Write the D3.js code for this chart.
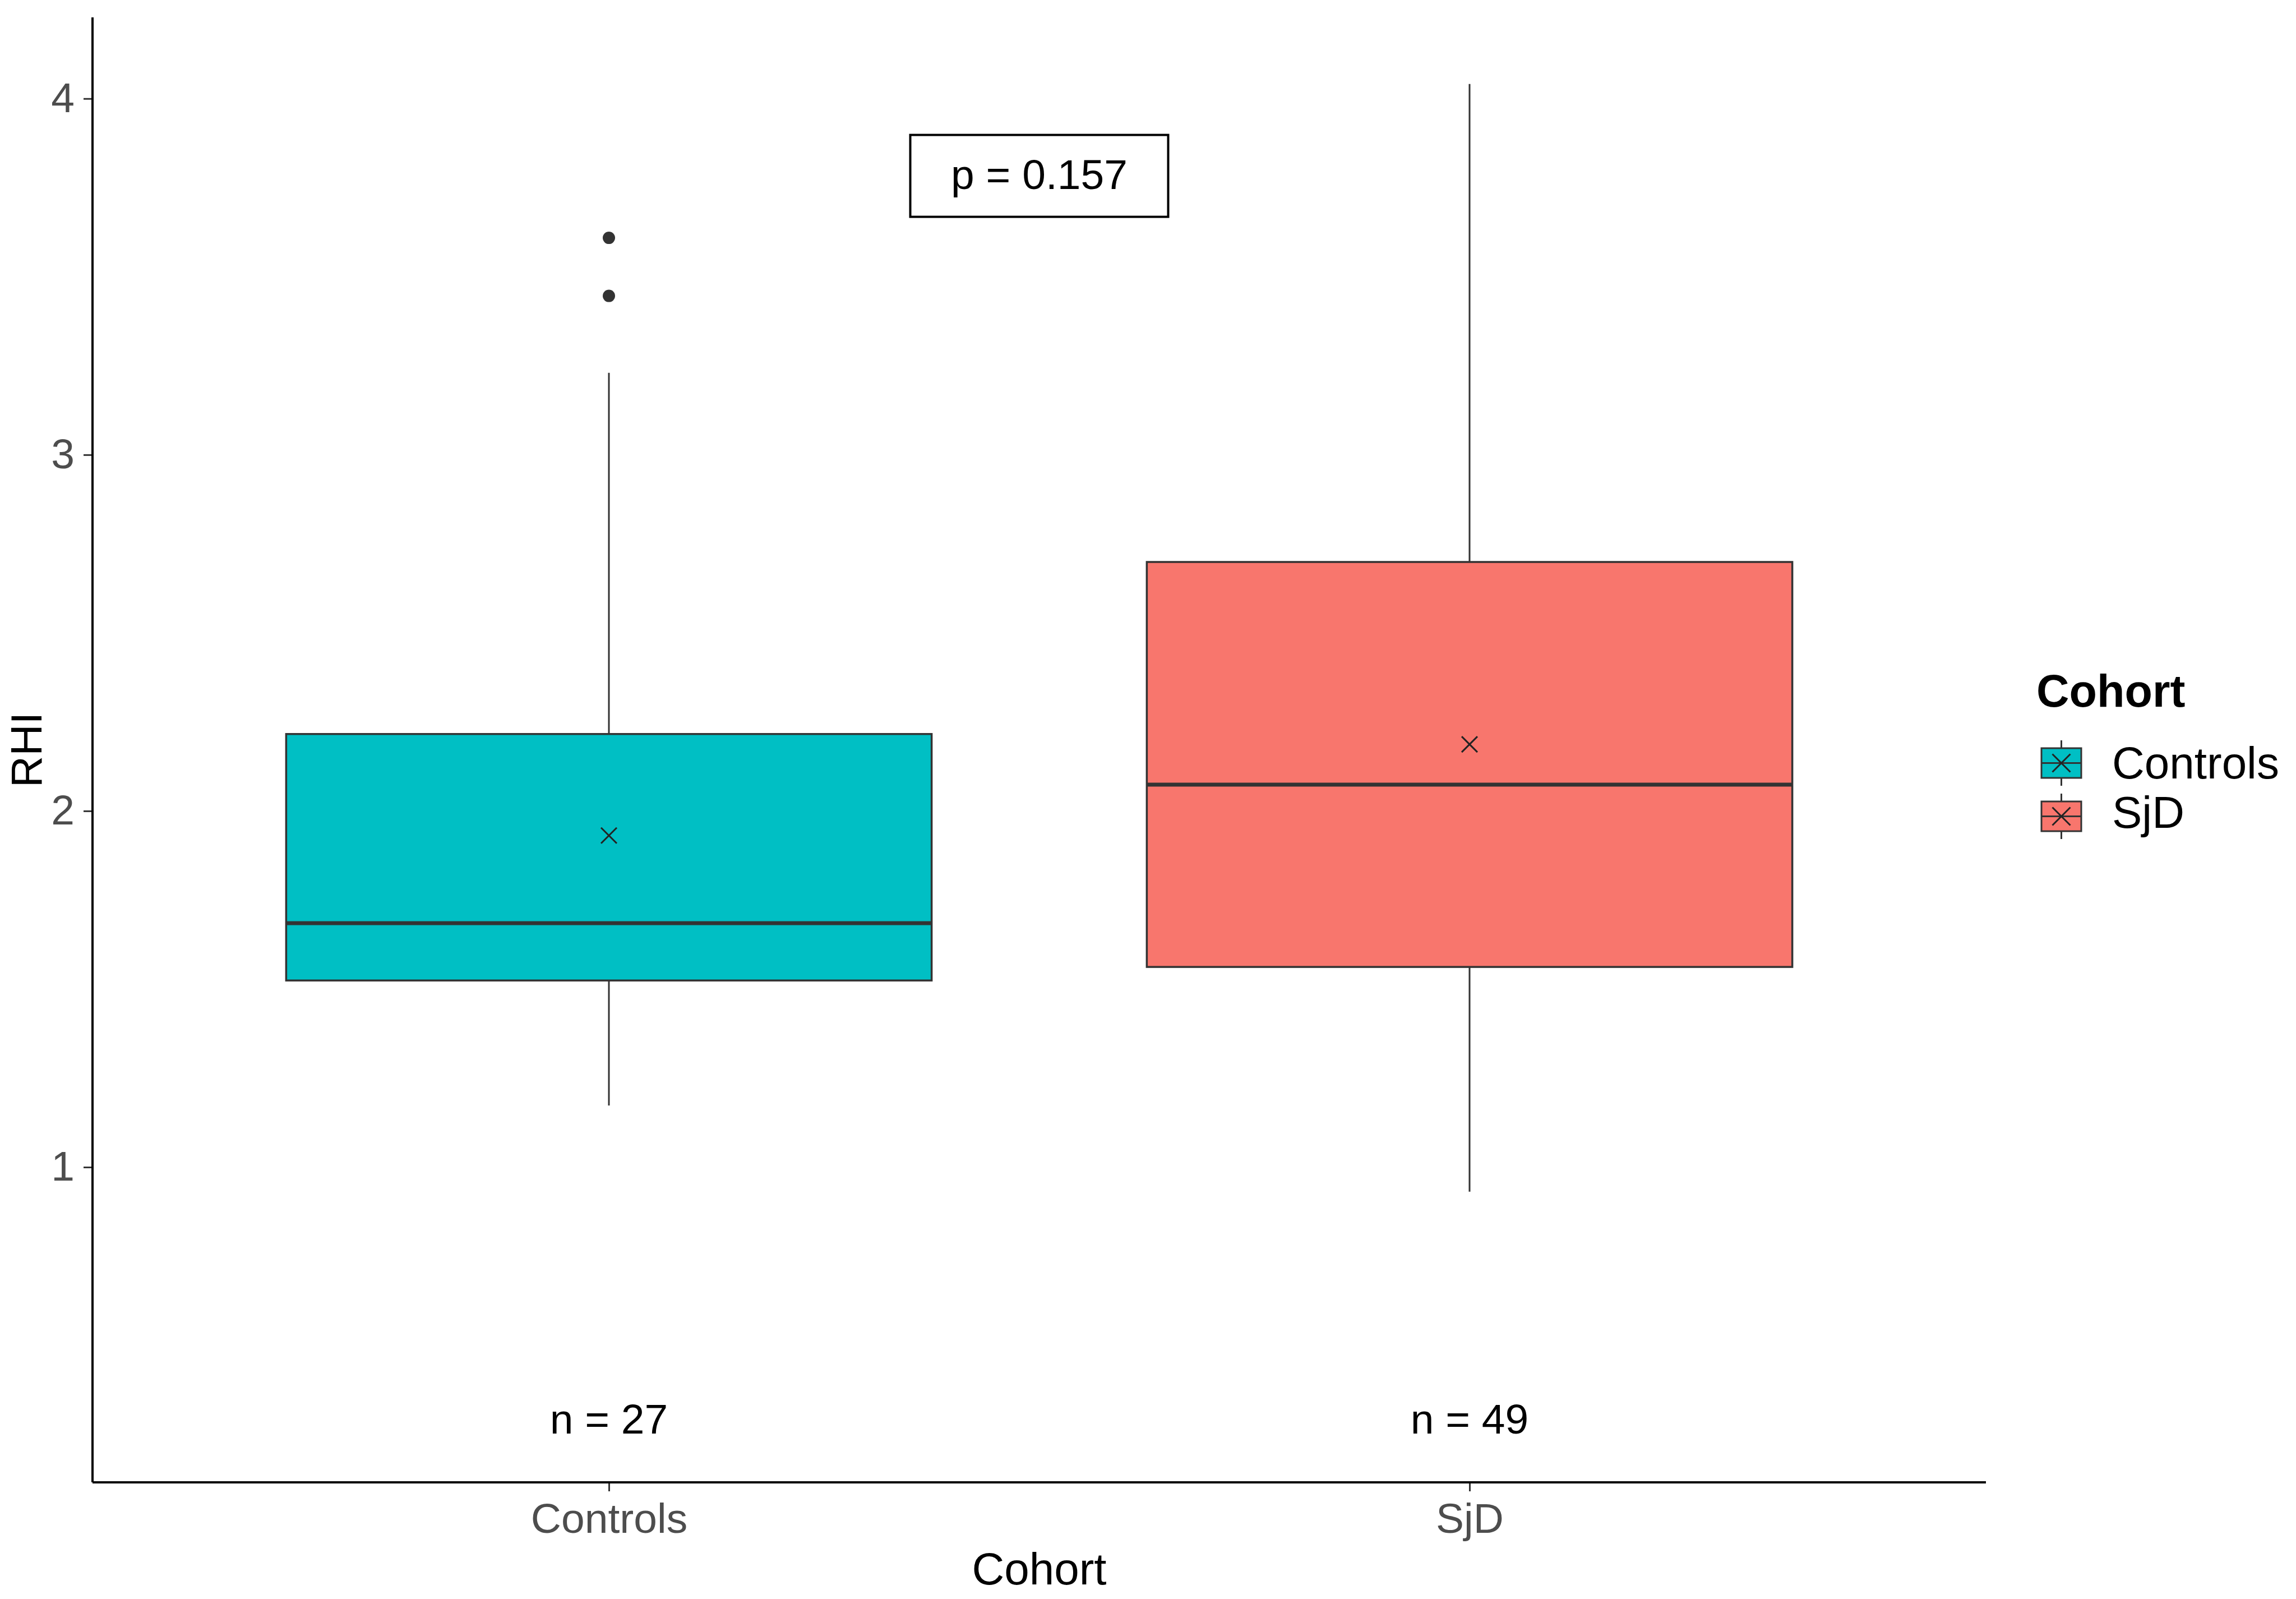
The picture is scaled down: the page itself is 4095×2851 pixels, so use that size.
<!DOCTYPE html>
<html>
<head>
<meta charset="utf-8">
<script src="https://cdn.jsdelivr.net/npm/d3@7"></script>
<style>
  html, body { margin: 0; padding: 0; background: #fff; }
  svg { display: block; }
  text { font-family: "Liberation Sans", Arial, sans-serif; }
</style>
</head>
<body>
<svg id="chart" width="4095" height="2851"></svg>
<script>
// ---- Data ----
const categories = ["Controls", "SjD"];
const fillColors = ["#00BFC4", "#F8766D"];
const whiskerLow = [1.173, 0.931];
const q1 = [1.524, 1.562];
const medians = [1.685, 2.074];
const q3 = [2.216, 2.699];
const whiskerHigh = [3.230, 4.041];
const means = [1.931, 2.187];
const outliers = [[3.609, 3.446], []];
const nLabels = ["n = 27", "n = 49"];
const nLabelY = 0.3;
const pLabel = "p = 0.157";
const pLabelX = 1.5;
const pLabelY = 3.783;
const yTicks = [1, 2, 3, 4];
const yDomain = [0.115, 4.228];

// ---- Layout ----
const W = 4095, H = 2851;
const pLeft = 165, pRight = 3542, pTop = 31, pBottom = 2643;

const svg = d3.select("#chart");
svg.append("rect").attr("width", W).attr("height", H).attr("fill", "#fff");

const x = d3.scalePoint().domain(categories).range([pLeft, pRight]).padding(0.6);
const xNum = d3.scaleLinear().domain([1, 2]).range([x(categories[0]), x(categories[1])]);
const y = d3.scaleLinear().domain(yDomain).range([pBottom, pTop]);
const boxW = x.step() * 0.75;

const data = categories.map((c, i) => ({
  cat: c, fill: fillColors[i], lo: whiskerLow[i], q1: q1[i], med: medians[i],
  q3: q3[i], hi: whiskerHigh[i], mean: means[i], out: outliers[i], n: nLabels[i]
}));

const lineCol = "#333333";
const g = svg.append("g");

// whiskers
g.selectAll(".wh-up").data(data).enter().append("line")
  .attr("x1", d => x(d.cat)).attr("x2", d => x(d.cat))
  .attr("y1", d => y(d.q3)).attr("y2", d => y(d.hi))
  .attr("stroke", lineCol).attr("stroke-width", 3);
g.selectAll(".wh-lo").data(data).enter().append("line")
  .attr("x1", d => x(d.cat)).attr("x2", d => x(d.cat))
  .attr("y1", d => y(d.q1)).attr("y2", d => y(d.lo))
  .attr("stroke", lineCol).attr("stroke-width", 3);

// boxes
g.selectAll(".box").data(data).enter().append("rect")
  .attr("x", d => x(d.cat) - boxW / 2).attr("width", boxW)
  .attr("y", d => y(d.q3)).attr("height", d => y(d.q1) - y(d.q3))
  .attr("fill", d => d.fill).attr("stroke", lineCol).attr("stroke-width", 3.5);

// medians
g.selectAll(".med").data(data).enter().append("line")
  .attr("x1", d => x(d.cat) - boxW / 2).attr("x2", d => x(d.cat) + boxW / 2)
  .attr("y1", d => y(d.med)).attr("y2", d => y(d.med))
  .attr("stroke", lineCol).attr("stroke-width", 7);

// outliers
data.forEach(d => {
  g.selectAll(null).data(d.out).enter().append("circle")
    .attr("cx", x(d.cat)).attr("cy", v => y(v)).attr("r", 11)
    .attr("fill", lineCol);
});

// mean markers (x shape)
const cross = (sel, cx, cy, s, sw) => {
  sel.append("path")
    .attr("d", `M${cx - s},${cy - s}L${cx + s},${cy + s}M${cx - s},${cy + s}L${cx + s},${cy - s}`)
    .attr("stroke", "#222").attr("stroke-width", sw).attr("fill", "none");
};
data.forEach(d => cross(g, x(d.cat), y(d.mean), 14, 3));

// n labels
g.selectAll(".nlab").data(data).enter().append("text")
  .attr("x", d => x(d.cat)).attr("y", y(nLabelY) + 4)
  .attr("text-anchor", "middle").attr("dominant-baseline", "central")
  .attr("font-size", 75).attr("fill", "#000").text(d => d.n);

// p label box
g.append("rect")
  .attr("x", xNum(pLabelX) - 230).attr("width", 460)
  .attr("y", y(pLabelY) - 73).attr("height", 146)
  .attr("fill", "#fff").attr("stroke", "#000").attr("stroke-width", 4);
g.append("text")
  .attr("x", xNum(pLabelX)).attr("y", y(pLabelY) - 3)
  .attr("text-anchor", "middle").attr("dominant-baseline", "central")
  .attr("font-size", 75).attr("fill", "#000").text(pLabel);

// axes
const xAxis = svg.append("g").attr("transform", `translate(0,${pBottom})`)
  .call(d3.axisBottom(x).tickSize(16).tickPadding(21));
const yAxis = svg.append("g").attr("transform", `translate(${pLeft},0)`)
  .call(d3.axisLeft(y).tickValues(yTicks).tickFormat(d3.format("d")).tickSize(16).tickPadding(16));
[xAxis, yAxis].forEach(a => {
  a.select(".domain").remove();
  a.selectAll(".tick line").attr("stroke", lineCol).attr("stroke-width", 3);
  a.selectAll(".tick text").attr("font-size", 75).attr("fill", "#4D4D4D")
    .attr("font-family", "'Liberation Sans', Arial, sans-serif");
});
// axis lines
svg.append("line").attr("x1", pLeft).attr("x2", pRight).attr("y1", pBottom).attr("y2", pBottom)
  .attr("stroke", "#000").attr("stroke-width", 4);
svg.append("line").attr("x1", pLeft).attr("x2", pLeft).attr("y1", pTop).attr("y2", pBottom)
  .attr("stroke", "#000").attr("stroke-width", 4);

// axis titles
svg.append("text").attr("x", (pLeft + pRight) / 2).attr("y", 2825)
  .attr("text-anchor", "middle").attr("font-size", 80).attr("fill", "#000").text("Cohort");
svg.append("text").attr("transform", `translate(74,${(pTop + pBottom) / 2}) rotate(-90)`)
  .attr("text-anchor", "middle").attr("font-size", 78).attr("fill", "#000").text("RHI");

// legend
const lg = svg.append("g");
lg.append("text").attr("x", 3632).attr("y", 1260).attr("font-size", 81)
  .attr("font-weight", "bold").attr("fill", "#000").text("Cohort");
const keyX0 = 3641, keyW = 71, keyBoxH = 53, whExt = 14;
const keyTops = [1334, 1429];
const labBase = [1388, 1476];
data.forEach((d, i) => {
  const ky = keyTops[i], cx = keyX0 + keyW / 2, cy = ky + keyBoxH / 2;
  lg.append("line").attr("x1", cx).attr("x2", cx).attr("y1", ky - whExt).attr("y2", ky + keyBoxH + whExt)
    .attr("stroke", lineCol).attr("stroke-width", 3);
  lg.append("rect").attr("x", keyX0).attr("y", ky).attr("width", keyW).attr("height", keyBoxH)
    .attr("fill", d.fill).attr("stroke", lineCol).attr("stroke-width", 3);
  lg.append("line").attr("x1", keyX0).attr("x2", keyX0 + keyW).attr("y1", cy).attr("y2", cy)
    .attr("stroke", lineCol).attr("stroke-width", 3);
  cross(lg, cx, cy, 16, 3);
  lg.append("text").attr("x", 3767).attr("y", labBase[i]).attr("font-size", 80)
    .attr("fill", "#000").text(d.cat);
});
</script>
</body>
</html>
